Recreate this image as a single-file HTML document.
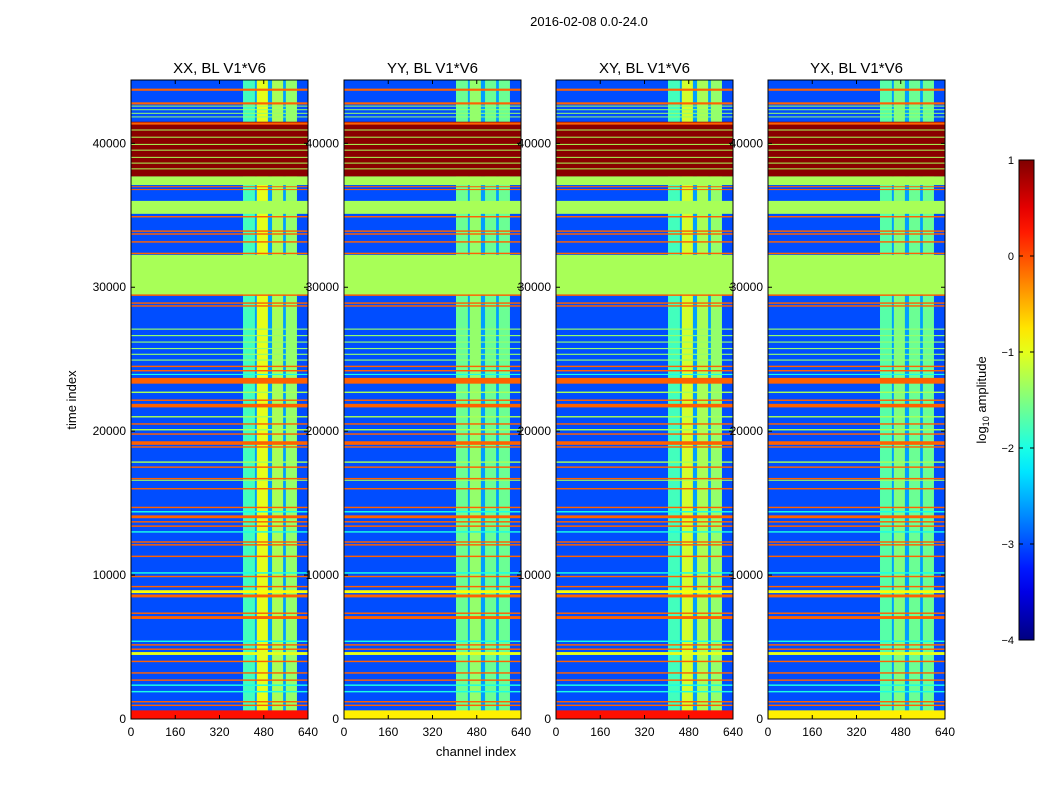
<!DOCTYPE html>
<html><head><meta charset="utf-8"><style>
body{margin:0;background:#fff;}
svg{display:block;font-family:"Liberation Sans",sans-serif;}
</style></head><body>
<svg id="chart" width="1050" height="800" viewBox="0 0 1050 800" xmlns="http://www.w3.org/2000/svg">
<text x="589" y="26" font-size="13" text-anchor="middle">2016-02-08 0.0-24.0</text>
<text transform="translate(76,400) rotate(-90)" font-size="13" text-anchor="middle">time index</text>
<text x="476" y="756" font-size="13" text-anchor="middle">channel index</text>
<g id="panels"></g>
<g id="cbar"></g>
</svg>
<script>
// ---- data ----
const panelTitles = ["XX, BL V1*V6","YY, BL V1*V6","XY, BL V1*V6","YX, BL V1*V6"];
const xTicks = [0,160,320,480,640];
const yTicks = [0,10000,20000,30000,40000];
const cbarTicks = [1,0,-1,-2,-3,-4];
const backgroundValue = -3.0;
// channel column bands [startCh, endCh]
const columnRanges = [[405,448],[455,495],[510,550],[560,600]];
const columnGapValue = -2.6;
// log10 amplitude of each column band per panel
const columnValues = [
  [-1.8,-1.0,-1.3,-1.4],
  [-1.6,-1.4,-1.6,-1.6],
  [-1.8,-1.1,-1.3,-1.4],
  [-1.7,-1.5,-1.6,-1.6]
];
// bottom stripe value per panel
const bottomValues = [0.3,-0.8,0.3,-0.8];
// full-width stripes [startTime, endTime, log10 amplitude]
const stripes = [
 [43650,43800,-0.1],[42700,42850,-0.1],[42550,42620,-1.4],[42300,42370,-1.4],[42050,42120,-1.4],[41800,41870,-1.4],
 [37700,41500,0.95],[41300,41450,-0.1],[40900,40960,-1.3],[40400,40460,-1.3],[39900,39960,-1.3],[39500,39560,-1.3],[39000,39060,-1.3],[38600,38660,-1.3],[38200,38260,-1.3],
 [37100,37700,-1.3],[36950,37020,-0.1],[36750,36820,-0.1],
 [35100,36000,-1.3],[34850,34950,-0.1],[33850,33950,-0.1],[33650,33750,-0.1],[33100,33200,-0.1],
 [32300,32400,-0.1],[29500,32250,-1.3],[29400,29500,-0.1],[28850,28950,-0.1],[28650,28750,-0.1],
 [27050,27130,-1.4],[26600,26680,-1.4],[26150,26230,-1.4],[25700,25780,-1.4],[25300,25380,-1.4],[24900,24980,-1.4],
 [24450,24550,-0.1],[24150,24250,-0.1],[23900,23980,-2.0],[23300,23700,-0.1],
 [22650,22750,-1.3],[22100,22200,-0.1],[21650,21900,-0.1],[20950,21050,-1.3],[20450,20550,-0.1],[20050,20150,-1.3],[19750,19850,-0.1],[19050,19300,-0.1],[18850,18950,-0.1],
 [17800,17900,-1.3],[17450,17550,-0.1],[16650,16750,-0.1],[16550,16620,-1.3],[15950,16050,-0.1],[14650,14750,-0.1],[14350,14450,-2.0],[13950,14150,-0.1],[13650,13750,-0.1],[13350,13450,-0.1],[12950,13050,-2.0],[12250,12350,-0.1],[12050,12150,-0.1],[11250,11350,-0.1],
 [10100,10200,-2.0],[9850,9950,-0.1],[9150,9250,-0.1],[8750,8950,-0.9],[8450,8650,-0.1],[7300,7400,-0.1],[6950,7150,-0.1],
 [5350,5450,-2.0],[5100,5200,-0.1],[4800,4900,-0.1],[4450,4650,-1.0],[3950,4050,-0.1],[3150,3250,-0.1],[2650,2750,-0.1],[2300,2400,-2.0],[1850,1950,-2.0],[1150,1250,-0.1],[900,1000,-0.1]
];
// ---- layout ----
const panelX = [131,344,556,768], panelW = 177, plotTop = 80, plotBottom = 719, tMax = 44400, chMax = 640;
const NS = "http://www.w3.org/2000/svg";
function jet(v){
  let t = (v+4)/5; t = Math.max(0,Math.min(1,t));
  const f = x => Math.max(0,Math.min(1,x));
  const r = f(Math.min(4*t-1.5, -4*t+4.5));
  const g = f(Math.min(4*t-0.5, -4*t+3.5));
  const b = f(Math.min(4*t+0.5, -4*t+2.5));
  return `rgb(${Math.round(r*255)},${Math.round(g*255)},${Math.round(b*255)})`;
}
function mk(tag, attrs, parent){ const e=document.createElementNS(NS,tag); for(const k in attrs) e.setAttribute(k,attrs[k]); parent.appendChild(e); return e; }
const yScale = t => plotBottom - (t/tMax)*(plotBottom-plotTop);
const panelsG = document.getElementById('panels');
panelTitles.forEach((title,p)=>{
  const x0 = panelX[p];
  const xScale = c => x0 + c/chMax*panelW;
  const g = mk('g',{},panelsG);
  
  
  const bg = mk('rect',{x:x0,y:plotTop,width:panelW,height:plotBottom-plotTop,fill:jet(backgroundValue)},g);
  
  
  const gap = mk('rect',{x:xScale(columnRanges[0][0]),y:plotTop,width:xScale(columnRanges[3][1])-xScale(columnRanges[0][0]),height:plotBottom-plotTop,fill:jet(columnGapValue)},g);
  
  
  columnRanges.forEach((cr,i)=>{
    const r = mk('rect',{x:xScale(cr[0]),y:plotTop,width:xScale(cr[1])-xScale(cr[0]),height:plotBottom-plotTop,fill:jet(columnValues[p][i])},g);
    
    
  });
  stripes.forEach(s=>{
    const y1=yScale(s[1]), y2=yScale(s[0]);
    const r = mk('rect',{x:x0,y:y1,width:panelW,height:Math.max(1,y2-y1),fill:jet(s[2])},g);
    
    
  });
  const bs = mk('rect',{x:x0,y:yScale(600),width:panelW,height:plotBottom-yScale(600),fill:jet(bottomValues[p])},g);
  
  
  const fr = mk('rect',{x:x0,y:plotTop,width:panelW,height:plotBottom-plotTop,fill:'none',stroke:'#000','stroke-width':1},g);
  
  
  const tt = mk('text',{x:x0+panelW/2,y:73,'font-size':15,'text-anchor':'middle'},g);
  tt.textContent = title;
  
  
  xTicks.forEach(v=>{
    const x = xScale(v);
    mk('line',{x1:x,x2:x,y1:plotBottom,y2:plotBottom-4,stroke:'#000'},g);
    mk('line',{x1:x,x2:x,y1:plotTop,y2:plotTop+4,stroke:'#000'},g);
    const l = mk('text',{x:x,y:plotBottom+17,'font-size':12,'text-anchor':'middle'},g);
    l.textContent = v;
    
    
  });
  yTicks.forEach(v=>{
    const y = yScale(v);
    mk('line',{x1:x0,x2:x0+4,y1:y,y2:y,stroke:'#000'},g);
    mk('line',{x1:x0+panelW,x2:x0+panelW-4,y1:y,y2:y,stroke:'#000'},g);
    const l = mk('text',{x:x0-5,y:y+4,'font-size':12,'text-anchor':'end'},g);
    l.textContent = v;
    
    
  });
});
// colorbar
const cb = document.getElementById('cbar');
const cbX=1019, cbW=15, cbTop=160, cbBot=640;
const defs = mk('defs',{},cb);
const grad = mk('linearGradient',{id:'jetg',x1:0,y1:1,x2:0,y2:0},defs);
for(let i=0;i<=20;i++){ mk('stop',{offset:(i/20),'stop-color':jet(-4+5*i/20)},grad); }
const cbr = mk('rect',{x:cbX,y:cbTop,width:cbW,height:cbBot-cbTop,fill:'url(#jetg)',stroke:'#000'},cb);


const cs = v => cbBot - (v+4)/5*(cbBot-cbTop);
cbarTicks.forEach(v=>{
  const y = cs(v);
  mk('line',{x1:cbX,x2:cbX+4,y1:y,y2:y,stroke:'#000'},cb);
  mk('line',{x1:cbX+cbW,x2:cbX+cbW-4,y1:y,y2:y,stroke:'#000'},cb);
  const l = mk('text',{x:cbX-5,y:y+4,'font-size':11,'text-anchor':'end'},cb);
  l.textContent = v<0 ? '\u2212'+(-v) : v;
  
  
});
const cl = mk('text',{transform:'translate(986,400) rotate(-90)','font-size':13,'text-anchor':'middle'},cb);
cl.innerHTML = 'log<tspan font-size="9" dy="3">10</tspan><tspan dy="-3"> amplitude</tspan>';


</script>
</body></html>
